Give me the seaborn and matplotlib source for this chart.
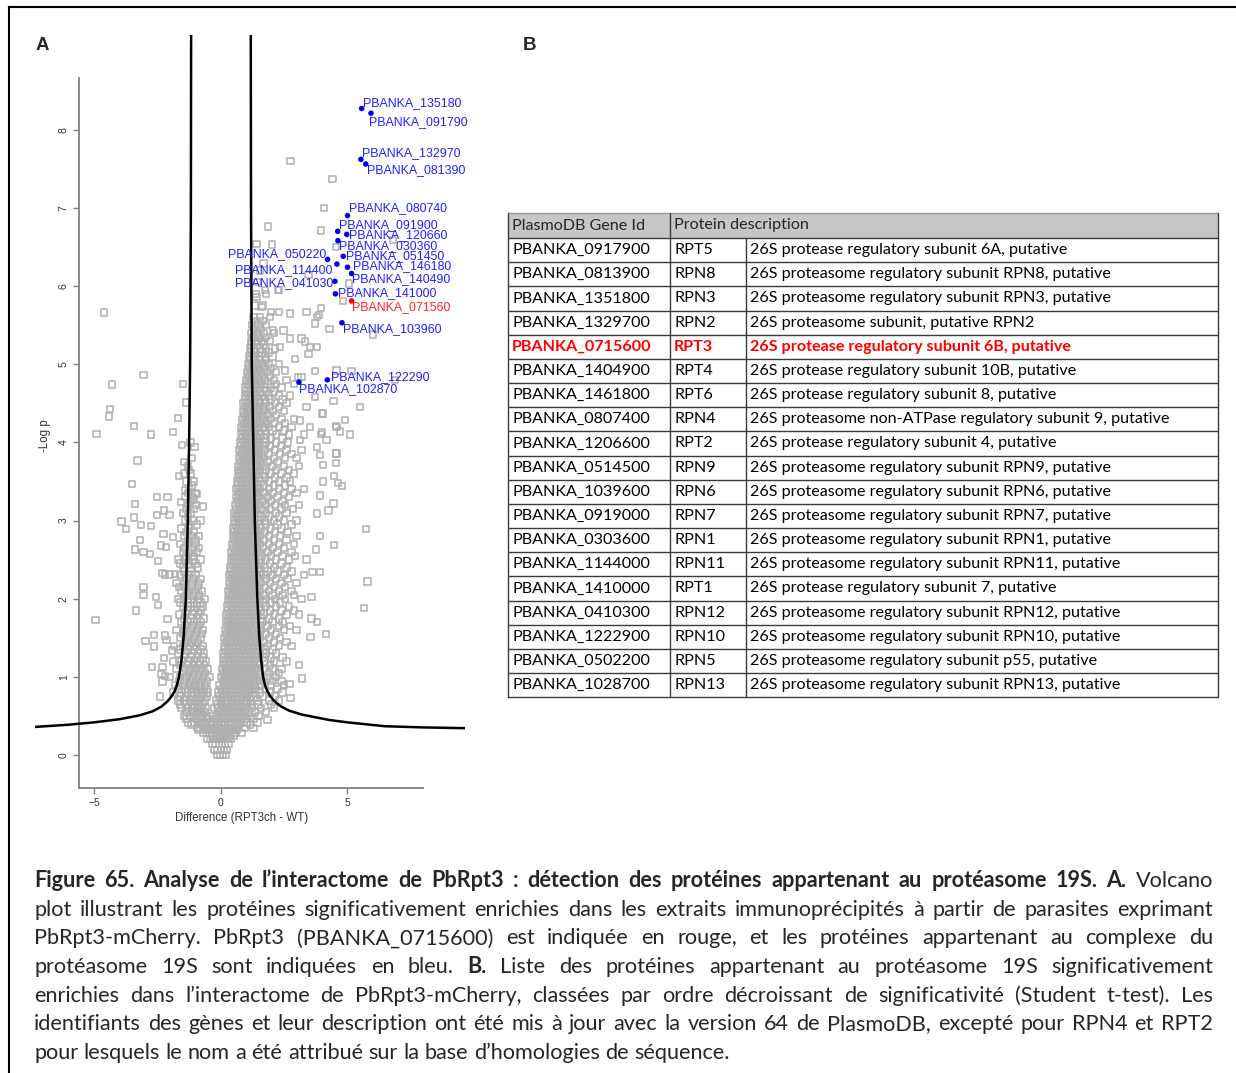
import numpy as np
import pandas as pd
import matplotlib
matplotlib.use("Agg")
import matplotlib.pyplot as plt
from matplotlib.patches import Rectangle
import seaborn as sns

# ---------------- Panel A : volcano plot ----------------
# background proteins, dense V-shaped cloud read row by row (y, [x ...])
cloud_rows = [
    (0.00, [-0.14, -0.02, 0.1, 0.2]),
    (0.07, [-0.25, -0.12, 0.0, 0.13, 0.25]),
    (0.14, [-0.33, -0.2, -0.07, 0.06, 0.18, 0.31]),
    (0.21, [-0.55, -0.4, -0.26, -0.12, 0.02, 0.15, 0.28, 0.42]),
    (0.28, [-0.7, -0.58, -0.45, -0.3, -0.15, 0.0, 0.14, 0.28, 0.42, 0.56, 0.85]),
    (0.35, [-0.95, -0.8, -0.65, -0.5, -0.36, -0.2, -0.05, 0.1, 0.24, 0.38, 0.52, 0.66, 0.95, 1.3]),
    (0.42, [-1.3, -1.05, -0.9, -0.76, -0.62, -0.45, -0.3, -0.12, 0.04, 0.18, 0.33, 0.47, 0.62, 0.78, 1.05, 1.45]),
    (0.50, [-1.45, -1.2, -1.02, -0.86, -0.7, -0.55, -0.35, -0.16, 0.0, 0.15, 0.3, 0.45, 0.6, 0.75, 0.9, 1.15, 1.5]),
    (0.60, [-1.55, -1.3, -1.12, -0.95, -0.78, -0.6, -0.25, -0.08, 0.08, 0.23, 0.38, 0.53, 0.68, 0.83, 0.98, 1.25, 1.6, 2.1]),
    (0.70, [-1.7, -1.45, -1.2, -1.0, -0.82, -0.62, -0.18, 0.0, 0.15, 0.3, 0.45, 0.6, 0.75, 0.9, 1.05, 1.2, 1.45, 1.9, 2.3]),
    (0.80, [-1.9, -1.55, -1.3, -1.08, -0.88, -0.68, -0.5, -0.1, 0.07, 0.22, 0.37, 0.52, 0.67, 0.82, 0.97, 1.12, 1.27, 1.55, 1.95, 2.45]),
    (0.90, [-1.8, -1.5, -1.25, -1.05, -0.85, -0.62, -0.05, 0.12, 0.27, 0.42, 0.57, 0.72, 0.87, 1.02, 1.17, 1.32, 1.6, 2.0, 2.5]),
    (1.00, [-2.0, -1.6, -1.35, -1.12, -0.9, -0.7, -0.45, 0.0, 0.16, 0.31, 0.46, 0.61, 0.76, 0.91, 1.06, 1.21, 1.36, 1.55, 1.85, 2.2]),
    (1.10, [-1.75, -1.42, -1.2, -0.98, -0.76, -0.52, 0.05, 0.2, 0.35, 0.5, 0.65, 0.8, 0.95, 1.1, 1.25, 1.4, 1.7, 2.05, 2.4]),
    (1.20, [-1.9, -1.55, -1.28, -1.05, -0.82, -0.58, 0.08, 0.23, 0.38, 0.53, 0.68, 0.83, 0.98, 1.13, 1.28, 1.45, 1.75, 2.1, 2.6]),
    (1.30, [-1.7, -1.4, -1.15, -0.9, -0.65, 0.1, 0.26, 0.41, 0.56, 0.71, 0.86, 1.01, 1.16, 1.31, 1.5, 1.8, 2.2]),
    (1.40, [-1.85, -1.5, -1.22, -0.98, -0.7, 0.12, 0.28, 0.43, 0.58, 0.73, 0.88, 1.03, 1.18, 1.33, 1.5, 1.85, 2.3, 2.8]),
    (1.50, [-1.6, -1.3, -1.05, -0.8, 0.15, 0.3, 0.45, 0.6, 0.75, 0.9, 1.05, 1.2, 1.35, 1.55, 1.9, 2.35]),
    (1.60, [-1.75, -1.45, -1.2, -0.95, -0.7, 0.18, 0.33, 0.48, 0.63, 0.78, 0.93, 1.08, 1.23, 1.38, 1.6, 2.0, 2.5, 3.0]),
    (1.70, [-1.55, -1.3, -1.05, -0.8, 0.2, 0.35, 0.5, 0.65, 0.8, 0.95, 1.1, 1.25, 1.4, 1.65, 2.05, 2.45]),
    (1.80, [-1.65, -1.4, -1.12, -0.85, 0.22, 0.38, 0.53, 0.68, 0.83, 0.98, 1.13, 1.28, 1.45, 1.7, 2.1, 2.6, 3.1]),
    (1.90, [-1.5, -1.2, -0.95, -0.7, 0.25, 0.4, 0.55, 0.7, 0.85, 1.0, 1.15, 1.3, 1.5, 1.8, 2.2, 2.7]),
    (2.00, [-1.7, -1.45, -1.2, -0.9, -0.62, 0.28, 0.43, 0.58, 0.73, 0.88, 1.03, 1.18, 1.33, 1.5, 1.8, 2.15, 2.55, 3.2]),
    (2.10, [-1.55, -1.3, -1.02, -0.75, 0.3, 0.45, 0.6, 0.75, 0.9, 1.05, 1.2, 1.35, 1.55, 1.9, 2.3, 2.8]),
    (2.20, [-1.75, -1.45, -1.15, -0.85, 0.32, 0.48, 0.63, 0.78, 0.93, 1.08, 1.23, 1.4, 1.6, 1.95, 2.4, 3.0]),
    (2.30, [-1.6, -1.3, -1.0, 0.35, 0.5, 0.65, 0.8, 0.95, 1.1, 1.25, 1.42, 1.7, 2.05, 2.5, 3.3]),
    (2.40, [-1.5, -1.2, -0.9, 0.38, 0.53, 0.68, 0.83, 0.98, 1.13, 1.28, 1.45, 1.75, 2.1, 2.6]),
    (2.50, [-1.7, -1.4, -1.1, -0.8, 0.4, 0.55, 0.7, 0.85, 1.0, 1.15, 1.3, 1.5, 1.8, 2.2, 2.7, 3.4]),
    (2.60, [-1.5, -1.25, -0.95, 0.42, 0.58, 0.73, 0.88, 1.03, 1.18, 1.33, 1.5, 1.85, 2.25, 2.8]),
    (2.70, [-1.6, -1.3, -1.0, 0.45, 0.6, 0.75, 0.9, 1.05, 1.2, 1.35, 1.55, 1.9, 2.3, 2.9]),
    (2.80, [-1.45, -1.15, -0.85, 0.48, 0.63, 0.78, 0.93, 1.08, 1.23, 1.38, 1.55, 1.9, 2.35, 3.0]),
    (2.90, [-1.55, -1.25, 0.5, 0.65, 0.8, 0.95, 1.1, 1.25, 1.4, 1.6, 1.95, 2.4]),
    (3.00, [-1.4, -1.1, -0.8, 0.52, 0.68, 0.83, 0.98, 1.13, 1.28, 1.45, 1.75, 2.1, 2.5, 3.0]),
    (3.10, [-1.5, -1.2, 0.55, 0.7, 0.85, 1.0, 1.15, 1.3, 1.47, 1.8, 2.2, 2.6]),
    (3.20, [-1.3, -1.0, 0.58, 0.73, 0.88, 1.03, 1.18, 1.33, 1.5, 1.8, 2.15, 2.55, 3.1]),
    (3.30, [-1.4, -1.1, 0.6, 0.75, 0.9, 1.05, 1.2, 1.35, 1.52, 1.85, 2.25, 2.7]),
    (3.40, [-1.25, 0.62, 0.78, 0.93, 1.08, 1.23, 1.38, 1.55, 1.9, 2.3, 2.8, 3.3]),
    (3.50, [-1.35, -1.05, 0.65, 0.8, 0.95, 1.1, 1.25, 1.4, 1.58, 1.9, 2.3, 2.75]),
    (3.60, [-1.2, 0.68, 0.83, 0.98, 1.13, 1.28, 1.45, 1.65, 2.0, 2.4, 2.9]),
    (3.70, [-1.3, 0.7, 0.85, 1.0, 1.15, 1.3, 1.48, 1.7, 2.05, 2.5, 3.1]),
    (3.80, [-1.15, 0.72, 0.88, 1.03, 1.18, 1.33, 1.5, 1.72, 2.1, 2.55, 3.0]),
    (3.90, [0.75, 0.9, 1.05, 1.2, 1.35, 1.52, 1.75, 2.15, 2.6, 3.2]),
    (4.00, [-1.2, 0.78, 0.93, 1.08, 1.23, 1.38, 1.55, 1.78, 2.2, 2.65]),
    (4.10, [0.8, 0.95, 1.1, 1.25, 1.4, 1.58, 1.8, 2.2, 2.7, 3.3]),
    (4.20, [0.82, 0.98, 1.13, 1.28, 1.45, 1.65, 1.9, 2.3, 2.8]),
    (4.30, [0.85, 1.0, 1.15, 1.3, 1.48, 1.7, 2.0, 2.4, 2.9]),
    (4.40, [0.88, 1.03, 1.18, 1.33, 1.5, 1.72, 2.05, 2.5]),
    (4.50, [0.9, 1.05, 1.2, 1.35, 1.55, 1.8, 2.15, 2.6]),
    (4.60, [0.95, 1.1, 1.25, 1.42, 1.62, 1.9, 2.3, 2.75]),
    (4.70, [0.98, 1.13, 1.3, 1.5, 1.7, 2.0, 2.4]),
    (4.80, [1.0, 1.15, 1.32, 1.52, 1.75, 2.1, 2.6]),
    (4.90, [1.05, 1.2, 1.38, 1.58, 1.85, 2.2]),
    (5.00, [1.08, 1.25, 1.42, 1.62, 1.9, 2.3]),
    (5.10, [1.12, 1.3, 1.5, 1.75, 2.05]),
    (5.20, [1.15, 1.32, 1.55, 1.8, 2.15]),
    (5.30, [1.2, 1.4, 1.62, 1.95]),
    (5.40, [1.22, 1.45, 1.7, 2.1]),
    (5.50, [1.25, 1.5, 1.8]),
    (5.60, [1.3, 1.55, 1.95]),
    (5.75, [1.35, 1.65]),
    (5.90, [1.4, 1.8]),
    (6.05, [1.45]),
    (6.20, [1.55]),
]
# second, staggered pass through the same cloud (points lying between the rows above)
cloud_rows_mid = [
    (0.25, [-0.33, -0.19, -0.05, 0.08, 0.21, 0.35, 0.5]),
    (0.32, [-0.88, -0.52, -0.38, -0.22, -0.08, 0.07, 0.21, 0.35, 0.49, 0.62]),
    (0.39, [-1.15, -0.72, -0.57, -0.43, -0.28, -0.13, 0.03, 0.17, 0.31, 0.45, 0.6, 0.72, 1.15]),
    (0.46, [-1.35, -0.97, -0.8, -0.5, -0.2, -0.04, 0.11, 0.26, 0.4, 0.55, 0.7, 0.84, 1.0, 1.3]),
    (0.55, [-1.35, -1.1, -0.92, -0.78, -0.62, -0.05, 0.08, 0.22, 0.37, 0.52, 0.67, 0.82, 0.97, 1.1, 1.35, 1.8]),
    (0.65, [-1.62, -1.38, -1.05, -0.88, -0.7, -0.15, 0.0, 0.16, 0.31, 0.46, 0.61, 0.76, 0.91, 1.06, 1.18, 1.5, 2.0]),
    (0.75, [-1.6, -1.35, -1.15, -0.95, -0.75, -0.55, -0.05, 0.1, 0.25, 0.4, 0.55, 0.7, 0.85, 1.0, 1.15, 1.3, 1.65, 2.15]),
    (0.85, [-1.7, -1.4, -1.18, -0.98, -0.78, -0.56, 0.02, 0.17, 0.32, 0.47, 0.62, 0.77, 0.92, 1.07, 1.22, 1.4, 1.75, 2.25]),
    (0.95, [-1.65, -1.42, -1.2, -0.98, -0.78, -0.55, 0.08, 0.22, 0.37, 0.52, 0.67, 0.82, 0.97, 1.12, 1.27, 1.45, 1.7, 2.05, 2.4]),
    (1.05, [-1.5, -1.25, -1.05, -0.85, -0.62, 0.1, 0.25, 0.4, 0.55, 0.7, 0.85, 1.0, 1.15, 1.3, 1.5, 1.9, 2.3]),
    (1.15, [-1.6, -1.32, -1.1, -0.88, -0.65, 0.12, 0.28, 0.43, 0.58, 0.73, 0.88, 1.03, 1.18, 1.33, 1.55, 1.95]),
    (1.25, [-1.45, -1.2, -0.95, -0.72, 0.15, 0.3, 0.45, 0.6, 0.75, 0.9, 1.05, 1.2, 1.37, 1.65, 2.0, 2.45]),
    (1.35, [-1.6, -1.3, -1.05, -0.8, 0.18, 0.33, 0.48, 0.63, 0.78, 0.93, 1.08, 1.23, 1.4, 1.7, 2.05]),
    (1.45, [-1.4, -1.15, -0.9, 0.2, 0.35, 0.5, 0.65, 0.8, 0.95, 1.1, 1.25, 1.42, 1.72, 2.1, 2.6]),
    (1.55, [-1.5, -1.25, -1.0, -0.75, 0.22, 0.38, 0.53, 0.68, 0.83, 0.98, 1.13, 1.3, 1.5, 1.8, 2.2]),
    (1.65, [-1.4, -1.12, -0.85, 0.25, 0.4, 0.55, 0.7, 0.85, 1.0, 1.15, 1.32, 1.55, 1.85, 2.3, 2.75]),
    (1.75, [-1.45, -1.2, -0.95, -0.68, 0.28, 0.43, 0.58, 0.73, 0.88, 1.03, 1.18, 1.35, 1.58, 1.9, 2.3]),
    (1.85, [-1.35, -1.05, -0.78, 0.3, 0.45, 0.6, 0.75, 0.9, 1.05, 1.2, 1.38, 1.6, 1.95, 2.4, 2.9]),
    (1.95, [-1.6, -1.32, -1.05, -0.8, 0.33, 0.48, 0.63, 0.78, 0.93, 1.08, 1.25, 1.42, 1.65, 2.0, 2.35]),
    (2.05, [-1.35, -1.1, -0.85, 0.35, 0.5, 0.65, 0.8, 0.95, 1.1, 1.27, 1.45, 1.7, 2.05, 2.45, 2.9]),
    (2.15, [-1.65, -1.4, -1.15, -0.9, 0.38, 0.53, 0.68, 0.83, 0.98, 1.13, 1.3, 1.47, 1.75, 2.1, 2.55]),
    (2.25, [-1.35, -1.1, -0.8, 0.4, 0.55, 0.7, 0.85, 1.0, 1.15, 1.32, 1.5, 1.8, 2.2, 2.65]),
    (2.35, [-1.45, -1.15, 0.42, 0.58, 0.73, 0.88, 1.03, 1.18, 1.35, 1.55, 1.85, 2.25, 2.8]),
    (2.45, [-1.6, -1.3, -1.0, 0.45, 0.6, 0.75, 0.9, 1.05, 1.2, 1.38, 1.6, 1.95, 2.4]),
    (2.55, [-1.35, -1.05, 0.48, 0.63, 0.78, 0.93, 1.08, 1.23, 1.4, 1.62, 2.0, 2.45, 2.95]),
    (2.65, [-1.45, -1.15, -0.85, 0.5, 0.65, 0.8, 0.95, 1.1, 1.25, 1.42, 1.65, 2.05, 2.5]),
    (2.75, [-1.3, -1.0, 0.52, 0.68, 0.83, 0.98, 1.13, 1.28, 1.45, 1.7, 2.1, 2.6]),
    (2.85, [-1.35, -1.05, 0.55, 0.7, 0.85, 1.0, 1.15, 1.3, 1.48, 1.75, 2.15, 2.65]),
    (2.95, [-1.25, -0.95, 0.58, 0.73, 0.88, 1.03, 1.18, 1.35, 1.55, 1.8, 2.25, 2.8]),
    (3.05, [-1.3, 0.6, 0.75, 0.9, 1.05, 1.2, 1.37, 1.6, 1.9, 2.3]),
    (3.15, [-1.35, -1.05, 0.62, 0.78, 0.93, 1.08, 1.23, 1.4, 1.62, 1.95, 2.4, 2.85]),
    (3.25, [-1.2, 0.65, 0.8, 0.95, 1.1, 1.25, 1.42, 1.65, 2.0, 2.45]),
    (3.35, [-1.3, -1.0, 0.68, 0.83, 0.98, 1.13, 1.28, 1.45, 1.7, 2.05, 2.5, 3.0]),
    (3.45, [-1.15, 0.7, 0.85, 1.0, 1.15, 1.3, 1.48, 1.72, 2.1, 2.55]),
    (3.55, [0.72, 0.88, 1.03, 1.18, 1.33, 1.5, 1.75, 2.15, 2.6]),
    (3.65, [-1.25, 0.75, 0.9, 1.05, 1.2, 1.37, 1.55, 1.8, 2.2, 2.7]),
    (3.75, [0.78, 0.93, 1.08, 1.23, 1.4, 1.6, 1.85, 2.25]),
    (3.85, [0.8, 0.95, 1.1, 1.25, 1.42, 1.62, 1.9, 2.35, 2.8]),
    (3.95, [0.82, 0.98, 1.13, 1.28, 1.45, 1.65, 1.95, 2.4]),
    (4.05, [0.85, 1.0, 1.15, 1.3, 1.48, 1.7, 2.0, 2.45]),
    (4.15, [0.88, 1.03, 1.18, 1.35, 1.52, 1.75, 2.05, 2.5]),
    (4.25, [0.9, 1.05, 1.2, 1.38, 1.58, 1.8, 2.1, 2.55]),
    (4.35, [0.92, 1.08, 1.25, 1.42, 1.62, 1.85, 2.2]),
    (4.45, [0.95, 1.1, 1.28, 1.45, 1.65, 1.95, 2.3]),
    (4.55, [0.98, 1.13, 1.3, 1.5, 1.72, 2.0, 2.45]),
    (4.65, [1.02, 1.18, 1.35, 1.55, 1.8, 2.1]),
    (4.75, [1.05, 1.2, 1.4, 1.6, 1.85, 2.2]),
    (4.85, [1.08, 1.25, 1.45, 1.65, 1.95]),
    (4.95, [1.12, 1.3, 1.5, 1.72, 2.0]),
    (5.05, [1.15, 1.35, 1.55, 1.8]),
    (5.15, [1.2, 1.4, 1.62, 1.9]),
    (5.25, [1.22, 1.45, 1.7]),
    (5.35, [1.3, 1.5, 1.8]),
    (5.45, [1.32, 1.6]),
    (5.55, [1.38, 1.65]),
]

# scattered background proteins away from the cloud
outlier_x = [-4.62, -3.06, -4.30, -1.50, -1.37, -4.38, -4.43, -1.69, -3.43, -4.91, -2.75, -1.90,
             -1.54, -1.04, -3.30, -1.45, -1.64, -1.45, -3.52, -1.16, -1.42, -0.93, -2.51, -2.11,
             -3.38, -1.56, -1.06, -0.69, -2.24, -3.43, -2.53, -2.03, -3.93, -3.75, -3.19, -3.38,
             -3.06, -2.80, -2.48, -3.15, -2.77, -2.27, -2.37, -2.16, -1.88, -2.30, -2.20, -2.00,
             -1.80, -3.06, -3.06, -2.56, -2.48, -3.35, -4.95, -2.10, -2.98, -2.64, -2.64, -2.20,
             -2.14, -2.24, -2.73, -2.30, -2.34, -2.20, -2.31, -2.40, -1.93,
             5.75, 5.81, 5.67, 5.51, 4.48, 4.17, 3.22, 2.77, 3.11, 2.72, 1.85, 3.80, 3.60, 3.56,
             4.48, 4.81, 4.56, 4.56, 4.65, 4.46, 4.26, 5.12, 4.93, 4.56, 4.72, 4.06, 3.96, 3.93,
             4.06, 4.04, 3.93, 3.82, 3.93, 3.77, 3.64, 3.60, 3.93,
             1.99, 2.31, 2.74, 3.40, 3.89, 3.73, 4.30, 2.48, 2.08, 3.20, 3.34, 2.74, 3.53, 3.82,
             2.35, 2.94, 3.47, 2.54, 3.73, 3.20, 2.90, 5.18, 4.46, 3.73, 3.40, 4.00, 4.59, 4.00,
             3.53, 3.14, 4.19, 3.80, 4.59, 3.14, 3.07, 4.59, 6.90,
             2.77, 4.42, 4.09, 3.97, 1.88, 2.04, 4.56, 6.04, 4.83, 5.08, 6.83,
             1.42, 1.62, 1.75, 2.32, 3.97, 3.80, 1.42, 1.69, 3.47, 2.28]
outlier_y = [5.66, 4.86, 4.74, 4.75, 4.51, 4.43, 4.33, 4.31, 4.21, 4.11, 4.10, 4.13,
             3.97, 3.94, 3.77, 3.75, 3.57, 3.60, 3.47, 3.42, 3.39, 3.34, 3.30, 3.30,
             3.21, 3.24, 3.26, 3.18, 3.13, 3.04, 3.07, 3.07, 2.99, 2.89, 2.75, 2.63,
             2.60, 2.57, 2.48, 2.94, 2.93, 2.83, 2.68, 2.66, 2.79, 2.33, 2.31, 2.31,
             2.32, 2.15, 2.05, 2.02, 1.92, 1.85, 1.73, 1.74, 1.46, 1.54, 1.39, 1.53,
             1.47, 1.24, 1.13, 1.13, 1.04, 1.01, 0.94, 0.75, 1.34,
             2.89, 2.22, 1.88, 4.45, 2.69, 1.55, 0.98, 0.73, 1.15, 0.91, 0.45, 1.70, 1.75, 1.51,
             3.57, 3.44, 3.74, 3.86, 3.48, 3.22, 3.13, 4.10, 4.29, 4.21, 4.14, 4.37, 4.11, 3.84,
             3.71, 3.50, 3.32, 3.09, 2.80, 2.63, 2.34, 2.02, 2.34,
             5.67, 5.67, 5.65, 5.67, 5.63, 5.52, 5.45, 5.43, 5.43, 5.33, 5.29, 5.33, 5.22, 5.22,
             5.22, 5.07, 5.13, 4.92, 4.91, 4.84, 4.75, 4.91, 4.53, 4.58, 4.45, 4.37, 4.20, 4.13,
             4.20, 4.28, 4.03, 3.94, 3.86, 4.03, 4.84, 4.92, 4.80,
             7.60, 7.37, 7.00, 6.71, 6.76, 6.53, 6.50, 5.38, 5.81, 6.03, 6.59,
             5.86, 5.73, 5.95, 5.95, 5.72, 5.60, 6.54, 6.29, 6.14, 5.95]

# 19S proteasome proteins (blue) and the bait PbRpt3 (red)
hit_ids = ["PBANKA_135180", "PBANKA_091790", "PBANKA_132970", "PBANKA_081390", "PBANKA_080740",
           "PBANKA_091900", "PBANKA_120660", "PBANKA_030360", "PBANKA_050220", "PBANKA_051450",
           "PBANKA_114400", "PBANKA_146180", "PBANKA_140490", "PBANKA_041030", "PBANKA_141000",
           "PBANKA_071560", "PBANKA_103960", "PBANKA_122290", "PBANKA_102870"]
hit_x = [5.58, 5.95, 5.55, 5.74, 5.02, 4.63, 4.99, 4.64, 4.23, 4.85,
         4.60, 5.02, 5.18, 4.52, 4.54, 5.18, 4.80, 4.22, 3.10]
hit_y = [8.27, 8.21, 7.62, 7.56, 6.90, 6.70, 6.66, 6.58, 6.34, 6.38,
         6.28, 6.24, 6.16, 6.06, 5.90, 5.81, 5.53, 4.80, 4.77]
hit_group = ["19S"] * 15 + ["bait"] + ["19S"] * 3

# significance threshold curves
thr_right_x = [1.19, 1.20, 1.23, 1.29, 1.35, 1.45, 1.53, 1.60, 1.68, 1.75, 1.83, 1.95, 2.10, 2.35,
               2.70, 3.20, 3.66, 4.30, 5.0, 6.5, 8.0, 9.7]
thr_right_y = [9.30, 7.00, 5.00, 4.00, 3.00, 2.00, 1.50, 1.22, 1.00, 0.90, 0.83, 0.76, 0.70, 0.63,
               0.57, 0.52, 0.49, 0.45, 0.42, 0.37, 0.355, 0.345]
thr_left_x = [-1.17, -1.18, -1.21, -1.25, -1.30, -1.38, -1.47, -1.55, -1.65, -1.73, -1.82, -1.95,
              -2.10, -2.35, -2.70, -3.20, -4.0, -5.0, -6.0, -7.4]
thr_left_y = [9.30, 7.00, 5.00, 4.00, 3.00, 2.00, 1.50, 1.22, 1.00, 0.90, 0.82, 0.75, 0.69, 0.62,
              0.56, 0.51, 0.46, 0.42, 0.39, 0.36]

# ---------------- Panel B : table ----------------
gene_ids = ["PBANKA_0917900", "PBANKA_0813900", "PBANKA_1351800", "PBANKA_1329700", "PBANKA_0715600",
            "PBANKA_1404900", "PBANKA_1461800", "PBANKA_0807400", "PBANKA_1206600", "PBANKA_0514500",
            "PBANKA_1039600", "PBANKA_0919000", "PBANKA_0303600", "PBANKA_1144000", "PBANKA_1410000",
            "PBANKA_0410300", "PBANKA_1222900", "PBANKA_0502200", "PBANKA_1028700"]
gene_names = ["RPT5", "RPN8", "RPN3", "RPN2", "RPT3", "RPT4", "RPT6", "RPN4", "RPT2", "RPN9",
              "RPN6", "RPN7", "RPN1", "RPN11", "RPT1", "RPN12", "RPN10", "RPN5", "RPN13"]
descriptions = [
    "26S protease regulatory subunit 6A, putative",
    "26S proteasome regulatory subunit RPN8, putative",
    "26S proteasome regulatory subunit RPN3, putative",
    "26S proteasome subunit, putative RPN2",
    "26S protease regulatory subunit 6B, putative",
    "26S protease regulatory subunit 10B, putative",
    "26S protease regulatory subunit 8, putative",
    "26S proteasome non-ATPase regulatory subunit 9, putative",
    "26S protease regulatory subunit 4, putative",
    "26S proteasome regulatory subunit RPN9, putative",
    "26S proteasome regulatory subunit RPN6, putative",
    "26S proteasome regulatory subunit RPN7, putative",
    "26S proteasome regulatory subunit RPN1, putative",
    "26S proteasome regulatory subunit RPN11, putative",
    "26S protease regulatory subunit 7, putative",
    "26S proteasome regulatory subunit RPN12, putative",
    "26S proteasome regulatory subunit RPN10, putative",
    "26S proteasome regulatory subunit p55, putative",
    "26S proteasome regulatory subunit RPN13, putative",
]
bait_name = "RPT3"

caption_lines = [
    [("Figure 65. Analyse de l\u2019interactome de PbRpt3 : détection des protéines appartenant au protéasome 19S. A.", True),
     ("Volcano", False)],
    [("plot illustrant les protéines significativement enrichies dans les extraits immunoprécipités à partir de parasites exprimant", False)],
    [("PbRpt3-mCherry. PbRpt3 (PBANKA_0715600) est indiquée en rouge, et les protéines appartenant au complexe du", False)],
    [("protéasome 19S sont indiquées en bleu.", False), ("B.", True),
     ("Liste des protéines appartenant au protéasome 19S significativement", False)],
    [("enrichies dans l\u2019interactome de PbRpt3-mCherry, classées par ordre décroissant de significativité (Student t-test). Les", False)],
    [("identifiants des gènes et leur description ont été mis à jour avec la version 64 de PlasmoDB, excepté pour RPN4 et RPT2", False)],
    [("pour lesquels le nom a été attribué sur la base d\u2019homologies de séquence.", False)],
]

# ---------------- figure ----------------
sns.set_style("white")
plt.rcParams["font.family"] = ["Liberation Sans", "DejaVu Sans"]

W, H = 1236, 1073
fig = plt.figure(figsize=(W / 100, H / 100), dpi=100)

# overlay in pixel coordinates for frame, table and caption
ov = fig.add_axes([0, 0, 1, 1], zorder=0)
ov.set_xlim(0, W)
ov.set_ylim(H, 0)
ov.axis("off")

ax = fig.add_axes([35 / W, 1 - 788 / H, 430 / W, 753 / H], zorder=2)
ax.patch.set_alpha(0)

cloud = pd.DataFrame([(x, y) for y, xs in cloud_rows + cloud_rows_mid for x in xs],
                     columns=["diff", "logp"])
extra = pd.DataFrame({"diff": outlier_x, "logp": outlier_y})
bg = pd.concat([cloud, extra], ignore_index=True)
sns.scatterplot(data=bg, x="diff", y="logp", marker="s", s=21, facecolors="none",
                edgecolor="#afafaf", linewidth=1.1, ax=ax, zorder=2)

ax.plot(thr_right_x, thr_right_y, color="black", lw=1.8, zorder=3)
ax.plot(thr_left_x, thr_left_y, color="black", lw=1.8, zorder=3)

hits = pd.DataFrame({"id": hit_ids, "diff": hit_x, "logp": hit_y, "group": hit_group})
sns.scatterplot(data=hits, x="diff", y="logp", hue="group",
                palette={"19S": "#0000e6", "bait": "#ff0000"}, s=16, linewidth=0,
                legend=False, ax=ax, zorder=4)

# label offsets in pixels (dx, dy, ha)
label_offsets = [(1, 5, "left"), (-2, -9, "left"), (1, 6, "left"), (1, -6, "left"), (1, 8, "left"),
                 (1, 6, "left"), (2, -1, "left"), (1, -5, "left"), (-1, 5, "right"), (3, 0, "left"),
                 (-5, -6, "right"), (5, 1, "left"), (0, -6, "left"), (-2, -2, "right"), (3, 1, "left"),
                 (0, -6, "left"), (1, -6, "left"), (4, 3, "left"), (0, -7, "left")]
for i, row in hits.iterrows():
    dx, dy, ha = label_offsets[i]
    col = "#ff2020" if row["group"] == "bait" else "#2020ff"
    ax.annotate(row["id"], (row["diff"], row["logp"]), xytext=(dx, dy), textcoords="offset pixels",
                ha=ha, va="center", fontsize=8.9, color=col, zorder=5)

ax.set_xlim(-7.35, 9.67)
ax.set_ylim(-0.42, 9.21)
for s in ["top", "right"]:
    ax.spines[s].set_visible(False)
ax.spines["left"].set_position(("data", -5.6))
ax.spines["left"].set_bounds(-0.42, 8.66)
ax.spines["bottom"].set_bounds(-5.6, 8.0)
for s in ["left", "bottom"]:
    ax.spines[s].set_color("#808080")
    ax.spines[s].set_linewidth(1.3)
ax.set_xticks([-5, 0, 5])
ax.set_yticks(range(9))
ax.tick_params(axis="both", direction="out", length=4, width=1, color="#808080",
               labelsize=7.5, labelcolor="#333333", left=True, bottom=True)
for t in ax.get_yticklabels():
    t.set_rotation(90)
    t.set_va("center")
ax.set_xlabel("Difference (RPT3ch - WT)", fontsize=8.3, color="#333333")
ax.set_ylabel("-Log p", fontsize=8.3, color="#333333")
ax.xaxis.set_label_coords((242 - 35) / 430, -(818 - 788) / 753)
ax.yaxis.set_label_coords((45 - 35) / 430, (788 - 436) / 753)
ax.xaxis.label.set_va("center")
ax.yaxis.label.set_va("center")

# frame and panel letters
ov.plot([9, 9], [H, 7], color="black", lw=1.5, solid_capstyle="projecting")
ov.plot([9, W], [7, 7], color="black", lw=1.5, solid_capstyle="projecting")
ov.text(42, 45, "A", fontsize=13.5, fontweight="bold", ha="center", va="center")
ov.text(530, 45, "B", fontsize=13.5, fontweight="bold", ha="center", va="center")

# table
TF = ["Lato", "DejaVu Sans"]
tl, c2, c3, tr = 508, 670, 746, 1218
top, row0, rh = 213, 238, 24.17
bottom = row0 + len(gene_ids) * rh
tfs = 11.6
ov.add_patch(Rectangle((tl, top), tr - tl, row0 - top, facecolor="#c6c6c6", edgecolor="none"))
ov.text(tl + 4, (top + row0) / 2, "PlasmoDB Gene Id", fontsize=tfs, family=TF, va="center")
ov.text(c2 + 4, (top + row0) / 2, "Protein description", fontsize=tfs, family=TF, va="center")
lc = "#3a3a3a"
ov.plot([tl, tr], [top, top], color="#9a9a9a", lw=1)
for i in range(len(gene_ids) + 1):
    yy = row0 + i * rh
    ov.plot([tl, tr], [yy, yy], color=lc, lw=1)
ov.plot([tl, tl], [top, bottom], color=lc, lw=1)
ov.plot([tr, tr], [top, bottom], color=lc, lw=1)
ov.plot([c2, c2], [top, bottom], color=lc, lw=1)
ov.plot([c3, c3], [row0, bottom], color=lc, lw=1)
for i, (gid, nm, desc) in enumerate(zip(gene_ids, gene_names, descriptions)):
    yc = row0 + (i + 0.5) * rh
    bait = nm == bait_name
    kw = dict(fontsize=tfs, family=TF, va="center",
              color="#ff0000" if bait else "black", fontweight="bold" if bait else "normal")
    ov.text(tl + 4, yc, gid, **kw)
    ov.text(c2 + 4, yc, nm, **kw)
    ov.text(c3 + 4, yc, desc, **kw)

# caption, justified between two margins
renderer = fig.canvas.get_renderer()
cap_l, cap_r = 34, 1213
for li, segs in enumerate(caption_lines):
    base = 887 + li * 28.7
    words = [(w, b) for txt, b in segs for w in txt.split()]
    objs = [ov.text(0, base, w, fontsize=15.6, family=TF, va="baseline",
                    fontweight="bold" if b else "normal") for w, b in words]
    widths = [o.get_window_extent(renderer).width for o in objs]
    if li < len(caption_lines) - 1:
        gap = (cap_r - cap_l - sum(widths)) / (len(objs) - 1)
    else:
        gap = 5.5
    x = cap_l
    for o, w in zip(objs, widths):
        o.set_x(x)
        x += w + gap

fig.savefig("out.png", dpi=100)
